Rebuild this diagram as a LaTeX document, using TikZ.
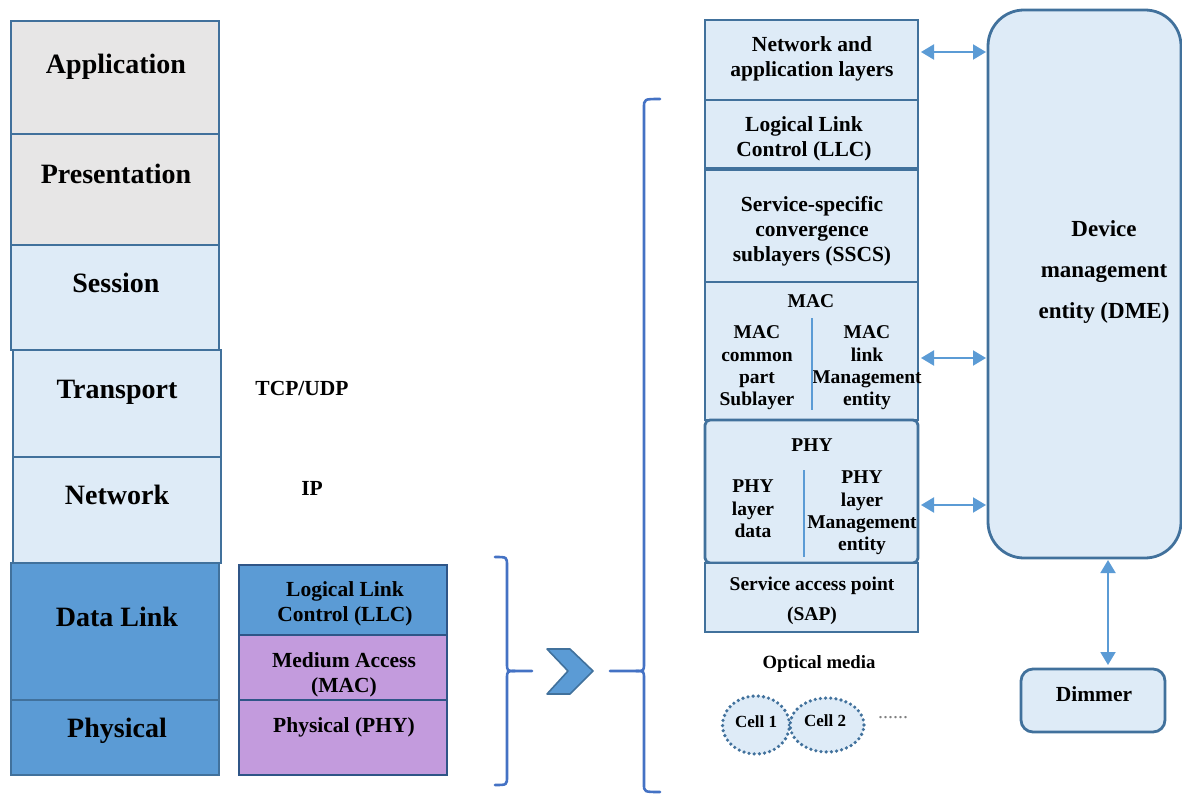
\documentclass[tikz,border=0pt]{standalone}
\usepackage{fontspec}
\setmainfont{Liberation Serif}
\usetikzlibrary{arrows.meta,shapes.geometric,calc}
\definecolor{lightfill}{HTML}{DEEBF7}
\definecolor{grayfill}{HTML}{E7E6E6}
\definecolor{midblue}{HTML}{5B9BD5}
\definecolor{purplefill}{HTML}{C39BDD}
\definecolor{bord}{HTML}{41719C}
\definecolor{darkbord}{HTML}{2F5587}
\definecolor{bracecol}{HTML}{4472C4}
\definecolor{arrowcol}{HTML}{5B9BD5}
\begin{document}
\begin{tikzpicture}[x=1pt,y=-1pt,
  box/.style={draw=bord, line width=2.8pt, anchor=north west, inner sep=0pt, outer sep=0pt},
  dbox/.style={draw=darkbord, line width=2.8pt, anchor=north west, inner sep=0pt, outer sep=0pt},
  biglbl/.style={font=\bfseries\fontsize{28}{30}\selectfont, inner sep=0pt, align=center},
  midlbl/.style={font=\bfseries\fontsize{21.5}{25}\selectfont, inner sep=0pt, align=center},
  smalllbl/.style={font=\bfseries\fontsize{19.5}{22.3}\selectfont, inner sep=0pt, align=center},
  dbl/.style={{Triangle[length=13pt,width=15pt]}-{Triangle[length=13pt,width=15pt]}, draw=arrowcol, line width=2pt},
  bracestyle/.style={draw=bracecol, line width=2.6pt, line cap=round},
  cellstyle/.style={draw=bord, fill=lightfill, line width=3.6pt, dash pattern=on 0pt off 5.2pt, line cap=round, inner sep=0pt}
]
\useasboundingbox (0,0) rectangle (1182,794);

% ---- OSI stack ----
\node[box, fill=grayfill, minimum width=208, minimum height=113] (app) at (11,21) {};
\node[box, fill=grayfill, minimum width=208, minimum height=111] (pres) at (11,134) {};
\node[box, fill=lightfill, minimum width=208, minimum height=105] (sess) at (11,245) {};
\node[box, fill=lightfill, minimum width=208, minimum height=107] (trans) at (13,350) {};
\node[box, fill=lightfill, minimum width=208, minimum height=106] (net) at (13,457) {};
\node[box, fill=midblue, minimum width=208, minimum height=137] (dl) at (11,563) {};
\node[box, fill=midblue, minimum width=208, minimum height=75] (phys) at (11,700) {};

\node[biglbl] (appT) at (116,67) {Application};
\node[biglbl] (presT) at (116,174) {Presentation};
\node[biglbl] (sessT) at (116,283) {Session};
\node[biglbl] (transT) at (117,392) {Transport};
\node[biglbl] (netT) at (117,495) {Network};
\node[biglbl] (dlT) at (117,617) {Data Link};
\node[biglbl] (physT) at (117,731) {Physical};

\node[midlbl] (tcp) at (302,388) {TCP/UDP};
\node[midlbl] (ip) at (312,488) {IP};

% ---- IEEE 802 sublayers ----
\node[dbox, fill=midblue, minimum width=208, minimum height=70] (llcA) at (239,565) {};
\node[dbox, fill=purplefill, minimum width=208, minimum height=65] (macA) at (239,635) {};
\node[dbox, fill=purplefill, minimum width=208, minimum height=75] (phyA) at (239,700) {};

\node[midlbl] (llcAT) at (345,604) {Logical Link\\Control (LLC)};
\begin{scope}
\clip (240,637) rectangle (446,697);
\node[midlbl] (macAT) at (344,675) {Medium Access\\(MAC)};
\end{scope}
\node[midlbl] (phyAT) at (344,727) {Physical (PHY)};

% ---- braces and chevron ----
\draw[bracestyle] (495,557) .. controls (507,557) .. (507,566) -- (507,663)
  .. controls (507,671) .. (515,671) -- (532,671);
\draw[bracestyle] (515,671) .. controls (507,671) .. (507,679) -- (507,776)
  .. controls (507,785) .. (495,785);

\draw[draw=bord, fill=midblue, line width=1.6pt, line join=round]
  (547,649) -- (570,649) -- (593,671) -- (570,694) -- (547,694) -- (568,671) -- cycle;

\draw[bracestyle] (610,671) -- (636,671) .. controls (644,671) .. (644,663) -- (644,108)
  .. controls (644,99) .. (660,99);
\draw[bracestyle] (636,671) .. controls (644,671) .. (644,679) -- (644,784)
  .. controls (644,792) .. (660,792);

% ---- right stack ----
\node[box, fill=lightfill, minimum width=213, minimum height=80] (nal) at (705,20) {};
\node[box, fill=lightfill, minimum width=213, minimum height=68] (llcB) at (705,100) {};
\node[box, fill=lightfill, minimum width=213, minimum height=112] (sscs) at (705,170) {};
\node[box, fill=lightfill, minimum width=213, minimum height=138] (macB) at (705,282) {};
\node[box, fill=lightfill, minimum width=213, minimum height=143, rounded corners=5pt] (phyB) at (705,420) {};
\node[box, fill=lightfill, minimum width=213, minimum height=69] (sap) at (705,563) {};

\node[midlbl] (nalT) at (812,59) {Network and\\application layers};
\node[midlbl] (llcBT) at (804,139) {Logical Link\\Control (LLC)};
\node[midlbl] (sscsT) at (812,231) {Service-specific\\convergence\\sublayers (SSCS)};

\node[smalllbl] (macBT) at (811,301) {MAC};
\node[smalllbl] (macL) at (757,368) {MAC\\common\\part\\Sublayer};
\node[smalllbl] (macR) at (867,368) {MAC\\link\\Management\\entity};
\draw[draw=midblue, line width=1.4pt] (812,318) -- (812,410);

\node[smalllbl] (phyBT) at (812,445) {PHY};
\node[smalllbl] (phyL) at (753,509) {PHY\\layer\\data};
\node[smalllbl] (phyR) at (862,513) {PHY\\layer\\Management\\entity};
\draw[draw=midblue, line width=1.4pt] (804,470) -- (804,557);

\begin{scope}
\clip (706,565) rectangle (917,630);
\node[font=\bfseries\fontsize{19.5}{30}\selectfont, inner sep=0pt, align=center] (sapT) at (812,601) {Service access point\\(SAP)};
\end{scope}

% ---- DME and dimmer ----
\node[box, fill=lightfill, minimum width=193, minimum height=548, rounded corners=36pt] (dme) at (988,10) {};
\node[font=\bfseries\fontsize{23}{41}\selectfont, inner sep=0pt, align=center] (dmeT) at (1104,272) {Device\\management\\entity (DME)};

\node[box, fill=lightfill, minimum width=144, minimum height=63, rounded corners=12pt] (dim) at (1021,669) {};
\node[midlbl] (dimT) at (1094,694) {Dimmer};

% ---- arrows ----
\draw[dbl, shorten <=3pt, shorten >=2pt] (nal.east |- 0,52) -- (dme.west |- 0,52);
\draw[dbl, shorten <=3pt, shorten >=2pt] (macB.east |- 0,358) -- (dme.west |- 0,358);
\draw[dbl, shorten <=3pt, shorten >=2pt] (phyB.east |- 0,505) -- (dme.west |- 0,505);
\draw[dbl, shorten <=2pt, shorten >=4pt] (dme.south -| 1108,0) -- (dim.north -| 1108,0);

% ---- optical media ----
\node[font=\bfseries\fontsize{18.7}{22}\selectfont, inner sep=0pt] (optT) at (819,664) {Optical media};
\node[cellstyle, ellipse, minimum width=67, minimum height=58] (cell1) at (756,725) {};
\node[cellstyle, ellipse, minimum width=74, minimum height=54] (cell2) at (827,725) {};
\node[font=\bfseries\fontsize{17}{20}\selectfont, inner sep=0pt] (cell1T) at (756,722) {Cell 1};
\node[font=\bfseries\fontsize{17}{20}\selectfont, inner sep=0pt] (cell2T) at (825,721) {Cell 2};
\node[font=\fontsize{20}{22}\selectfont, text=gray, inner sep=0pt] (dotsT) at (893,718) {......};
\end{tikzpicture}
\end{document}
